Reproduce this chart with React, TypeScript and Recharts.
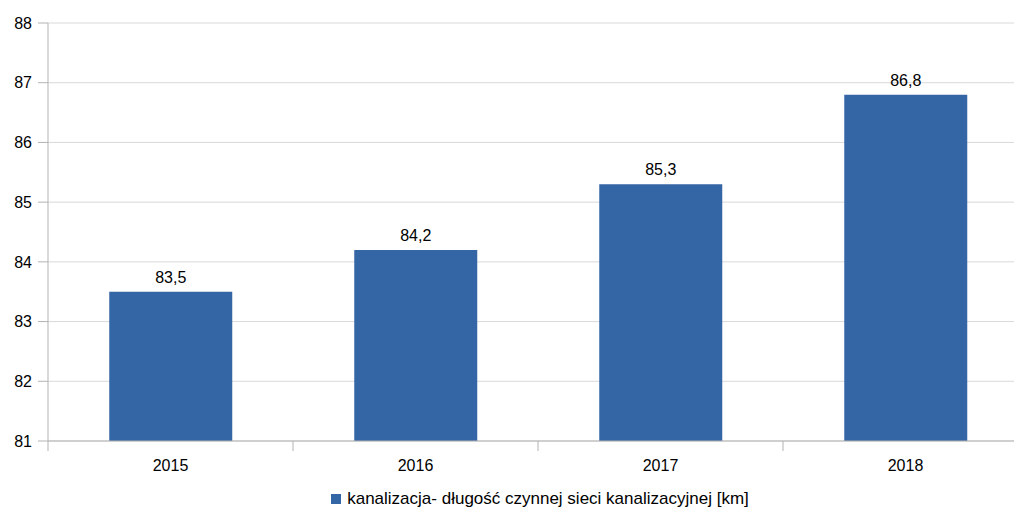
import React from 'react';
import { BarChart, Bar, XAxis, YAxis, CartesianGrid, LabelList, Legend } from 'recharts';

const years = ['2015', '2016', '2017', '2018'];
const lengthKm = [83.5, 84.2, 85.3, 86.8];
const yTicks = [81, 82, 83, 84, 85, 86, 87, 88];
const seriesName = 'kanalizacja- długość czynnej sieci kanalizacyjnej [km]';

const data = years.map((y, i) => ({ year: y, value: lengthKm[i] }));

const CHART_W = 1036;
const CHART_H = 511;
const MARGIN = { top: 23, right: 8, left: 0, bottom: 0 };
const Y_W = 48;
const X_H = 40;
const LEG_H = 30;
const AXIS_Y = CHART_H - MARGIN.bottom - LEG_H - X_H;
const BAND = (CHART_W - MARGIN.left - MARGIN.right - Y_W) / years.length;
const FONT = 'Liberation Sans, Arial, sans-serif';

const XTick = (props: any) => {
  const { x, payload, index } = props;
  const axisY = AXIS_Y;
  return (
    <g>
      <line x1={x + BAND / 2} x2={x + BAND / 2} y1={axisY} y2={axisY + 10} stroke="#b3b3b3" />
      {index === 0 && (
        <line x1={x - BAND / 2} x2={x - BAND / 2} y1={axisY} y2={axisY + 10} stroke="#b3b3b3" />
      )}
      <text x={x} y={axisY + 30} textAnchor="middle" fontSize={16} fill="#000" fontFamily={FONT}>
        {payload.value}
      </text>
    </g>
  );
};

const LegendContent = () => (
  <div style={{ display: 'flex', alignItems: 'center', justifyContent: 'center', fontFamily: FONT, fontSize: 17, color: '#000', paddingLeft: 52, paddingTop: 8 }}>
    <span style={{ display: 'inline-block', width: 10, height: 10, background: '#3465a4', marginRight: 6 }} />
    <span>{seriesName}</span>
  </div>
);

export default function App() {
  return (
    <div style={{ position: 'fixed', left: 0, top: 0, width: 1014, height: 511, overflow: 'hidden', background: '#fff' }}>
      <BarChart width={CHART_W} height={CHART_H} data={data} margin={MARGIN} barCategoryGap="25%">
        <CartesianGrid vertical={false} stroke="#d9d9d9" />
        <XAxis
          dataKey="year"
          stroke="#b3b3b3"
          tickLine={false}
          tick={<XTick />}
          height={X_H}
          interval={0}
        />
        <YAxis
          domain={[81, 88]}
          ticks={yTicks}
          width={Y_W}
          stroke="#b3b3b3"
          tickSize={10}
          tickMargin={6}
          tick={{ fill: '#000', fontSize: 16, fontFamily: FONT }}
          allowDataOverflow
        />
        <Legend verticalAlign="bottom" height={LEG_H} content={<LegendContent />} />
        <Bar dataKey="value" name={seriesName} fill="#3465a4" isAnimationActive={false}>
          <LabelList
            dataKey="value"
            position="top"
            offset={9}
            formatter={(v: any) => String(v).replace('.', ',')}
            style={{ fill: '#000', fontSize: 16, fontFamily: FONT }}
          />
        </Bar>
      </BarChart>
    </div>
  );
}
